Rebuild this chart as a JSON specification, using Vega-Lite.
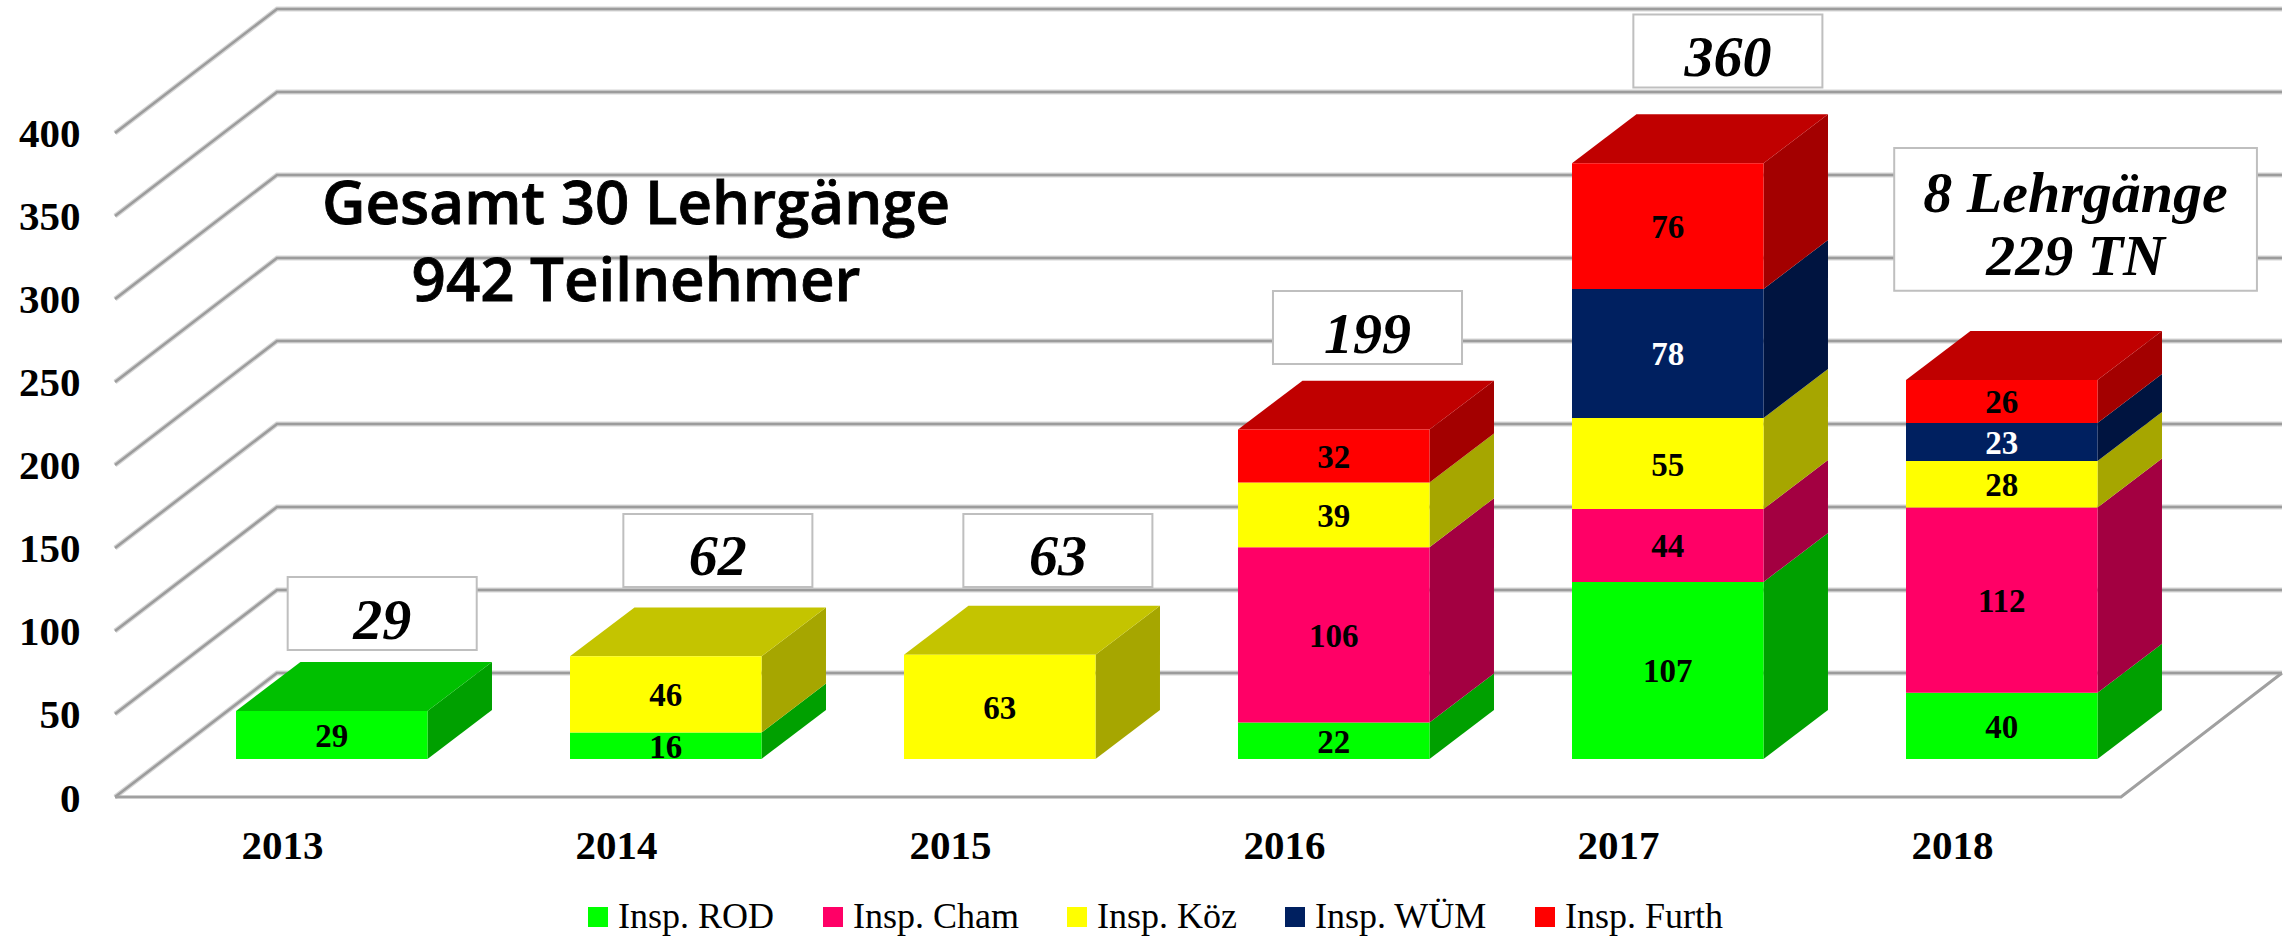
{
"$schema":"https://vega.github.io/schema/vega-lite/v6.json",
"width":2175,"height":797,"autosize":{"type":"none"},
"padding":{"left":115,"top":0,"right":0,"bottom":139},
"background":"white",
"config":{"view":{"stroke":null}},
"datasets":{
"counts":[
{"year":2013,"inspection":"Insp. ROD","value":29},
{"year":2014,"inspection":"Insp. ROD","value":16},
{"year":2014,"inspection":"Insp. Köz","value":46},
{"year":2015,"inspection":"Insp. Köz","value":63},
{"year":2016,"inspection":"Insp. ROD","value":22},
{"year":2016,"inspection":"Insp. Cham","value":106},
{"year":2016,"inspection":"Insp. Köz","value":39},
{"year":2016,"inspection":"Insp. Furth","value":32},
{"year":2017,"inspection":"Insp. ROD","value":107},
{"year":2017,"inspection":"Insp. Cham","value":44},
{"year":2017,"inspection":"Insp. Köz","value":55},
{"year":2017,"inspection":"Insp. WÜM","value":78},
{"year":2017,"inspection":"Insp. Furth","value":76},
{"year":2018,"inspection":"Insp. ROD","value":40},
{"year":2018,"inspection":"Insp. Cham","value":112},
{"year":2018,"inspection":"Insp. Köz","value":28},
{"year":2018,"inspection":"Insp. WÜM","value":23},
{"year":2018,"inspection":"Insp. Furth","value":26}],
"ticks":[{"tick":0},{"tick":50},{"tick":100},{"tick":150},{"tick":200},{"tick":250},{"tick":300},{"tick":350},{"tick":400}],
"notes":[
{"year":2013,"label":"29"},
{"year":2014,"label":"62"},
{"year":2015,"label":"63"},
{"year":2016,"label":"199"},
{"year":2017,"label":"360"},
{"year":2018,"label":"8 Lehrgänge\n229 TN"}]
},
"resolve":{"scale":{"color":"independent"}},
"encoding":{
"x":{"field":"px","type":"quantitative","title":null,"scale":{"domain":[2012.5,2019.012],"nice":false,"zero":false},
"axis":{"values":[2013,2014,2015,2016,2017,2018],"format":"d","grid":false,"domain":false,"ticks":false,"labelPadding":29,"labelFont":"Liberation Serif","labelFontWeight":"bold","labelFontSize":41,"labelColor":"black"}},
"y":{"field":"py","type":"quantitative","stack":null,"title":null,"scale":{"domain":[0,480.1],"nice":false,"zero":false},
"axis":{"values":[0,50,100,150,200,250,300,350,400],"grid":false,"domain":false,"ticks":false,"labelPadding":35,"labelOffset":2,"labelFont":"Liberation Serif","labelFontWeight":"bold","labelFontSize":41,"labelColor":"black"}}
},
"layer":[
{"data":{"name":"ticks"},
"transform":[{"calculate":"[0,1,2]","as":"c"},{"flatten":["c"]},
{"calculate":"[2012.5,2012.985,2018.988][datum.c]","as":"px"},
{"calculate":"datum.tick+(datum.c>0?74.7:0)","as":"py"}],
"mark":{"type":"line","stroke":"#d6d6d6","strokeWidth":5},
"encoding":{"detail":{"field":"tick"},"order":{"field":"c"}}},
{"data":{"name":"ticks"},
"transform":[{"calculate":"[0,1,2]","as":"c"},{"flatten":["c"]},
{"calculate":"[2012.5,2012.985,2018.988][datum.c]","as":"px"},
{"calculate":"datum.tick+(datum.c>0?74.7:0)","as":"py"}],
"mark":{"type":"line","stroke":"#9c9c9c","strokeWidth":2.5},
"encoding":{"detail":{"field":"tick"},"order":{"field":"c"}}},
{"data":{"name":"ticks"},
"transform":[{"filter":"datum.tick===0"},{"calculate":"[0,1,2]","as":"c"},{"flatten":["c"]},
{"calculate":"[2012.5,2018.506,2018.988][datum.c]","as":"px"},
{"calculate":"datum.c===2?74.7:0","as":"py"}],
"mark":{"type":"line","stroke":"#a0a0a0","strokeWidth":3},
"encoding":{"order":{"field":"c"}}},
{"data":{"name":"counts"},
"transform":[
{"calculate":"indexof(['Insp. ROD','Insp. Cham','Insp. Köz','Insp. WÜM','Insp. Furth'],datum.inspection)","as":"rank"},
{"stack":"value","groupby":["year"],"sort":[{"field":"rank"}],"as":["s0","s1"]},
{"calculate":"datum.year+'-'+datum.inspection","as":"key"},
{"calculate":"[0,1]","as":"c"},{"flatten":["c"]},
{"calculate":"datum.year+0.4357+datum.c*0.193","as":"px"},
{"calculate":"22.9+datum.s0*0.997+datum.c*29.5","as":"py"},
{"calculate":"22.9+datum.s1*0.997+datum.c*29.5","as":"py2"}],
"mark":{"type":"area","orient":"vertical"},
"encoding":{"y2":{"field":"py2"},"detail":{"field":"key"},
"color":{"field":"inspection","type":"nominal","legend":null,"scale":{"domain":["Insp. ROD","Insp. Cham","Insp. Köz","Insp. WÜM","Insp. Furth"],"range":["#00a000","#a30041","#a6a600","#001440","#a30000"]}}}},
{"data":{"name":"counts"},
"transform":[
{"calculate":"indexof(['Insp. ROD','Insp. Cham','Insp. Köz','Insp. WÜM','Insp. Furth'],datum.inspection)","as":"rank"},
{"stack":"value","groupby":["year"],"sort":[{"field":"rank"}],"as":["s0","s1"]},
{"joinaggregate":[{"op":"max","field":"s1","as":"total"}],"groupby":["year"]},
{"filter":"datum.s1===datum.total"},
{"calculate":"[0,1]","as":"c"},{"flatten":["c"]},
{"calculate":"datum.year-0.1377+datum.c*0.193","as":"px"},
{"calculate":"datum.px+0.5734","as":"px2"},
{"calculate":"22.9+datum.total*0.997+datum.c*29.5","as":"py"}],
"mark":{"type":"area","orient":"horizontal"},
"encoding":{"x2":{"field":"px2"},"detail":{"field":"year"},
"color":{"field":"inspection","type":"nominal","legend":null,"scale":{"domain":["Insp. ROD","Insp. Cham","Insp. Köz","Insp. WÜM","Insp. Furth"],"range":["#00c000","#c0004c","#c4c400","#001848","#c00000"]}}}},
{"data":{"name":"counts"},
"transform":[
{"calculate":"indexof(['Insp. ROD','Insp. Cham','Insp. Köz','Insp. WÜM','Insp. Furth'],datum.inspection)","as":"rank"},
{"stack":"value","groupby":["year"],"sort":[{"field":"rank"}],"as":["s0","s1"]},
{"calculate":"datum.year-0.1377","as":"px"},
{"calculate":"datum.px+0.5734","as":"px2"},
{"calculate":"22.9+datum.s0*0.997","as":"py"},
{"calculate":"22.9+datum.s1*0.997","as":"py2"}],
"mark":{"type":"rect"},
"encoding":{"x2":{"field":"px2"},"y2":{"field":"py2"},
"color":{"field":"inspection","type":"nominal","title":null,
"scale":{"domain":["Insp. ROD","Insp. Cham","Insp. Köz","Insp. WÜM","Insp. Furth"],"range":["#00ff00","#ff0066","#ffff00","#002060","#ff0000"]},
"legend":{"orient":"none","legendX":465,"legendY":899,"direction":"horizontal","symbolType":"square","symbolSize":400,"symbolStrokeWidth":0,"labelFont":"Liberation Serif","labelFontSize":36,"labelColor":"black","columnPadding":40,"labelOffset":2,"labelLimit":400,"padding":0,"rowPadding":0}}}},
{"data":{"name":"counts"},
"transform":[
{"calculate":"indexof(['Insp. ROD','Insp. Cham','Insp. Köz','Insp. WÜM','Insp. Furth'],datum.inspection)","as":"rank"},
{"stack":"value","groupby":["year"],"sort":[{"field":"rank"}],"as":["s0","s1"]},
{"calculate":"datum.year+0.149","as":"px"},
{"calculate":"22.9+(datum.s0+datum.s1)*0.997/2","as":"py"}],
"mark":{"type":"text","font":"Liberation Serif","fontWeight":"bold","fontSize":33,"baseline":"middle","align":"center","dy":2},
"encoding":{"text":{"field":"value","type":"quantitative"},
"color":{"condition":{"test":"datum.inspection==='Insp. WÜM'","value":"white"},"value":"black"}}},
{"data":{"name":"notes"},
"transform":[
{"calculate":"datum.year+{'2013':0.30,'2014':0.305,'2015':0.323,'2016':0.25,'2017':0.329,'2018':0.37}[''+datum.year]","as":"cx"},
{"calculate":"{'2013':110.5,'2014':148.5,'2015':148.5,'2016':282.8,'2017':449.4,'2018':347.9}[''+datum.year]","as":"cy"},
{"calculate":"datum.year===2018?0.543:0.283","as":"hw"},
{"calculate":"datum.year===2018?43:22","as":"hh"},
{"calculate":"datum.cx-datum.hw","as":"px"},
{"calculate":"datum.cx+datum.hw","as":"px2"},
{"calculate":"datum.cy-datum.hh","as":"py"},
{"calculate":"datum.cy+datum.hh","as":"py2"}],
"mark":{"type":"rect","fill":"white","stroke":"#bfbfbf","strokeWidth":2},
"encoding":{"x2":{"field":"px2"},"y2":{"field":"py2"}}},
{"data":{"name":"notes"},
"transform":[
{"calculate":"datum.year+{'2013':0.30,'2014':0.305,'2015':0.323,'2016':0.25,'2017':0.329,'2018':0.37}[''+datum.year]","as":"px"},
{"calculate":"{'2013':110.5,'2014':148.5,'2015':148.5,'2016':282.8,'2017':449.4,'2018':367.5}[''+datum.year]","as":"py"}],
"mark":{"type":"text","font":"Liberation Serif","fontWeight":"bold","fontStyle":"italic","fontSize":58,"baseline":"middle","align":"center","lineBreak":"\n","lineHeight":63,"dy":8,"color":"black"},
"encoding":{"text":{"field":"label","type":"nominal"}}},
{"data":{"values":[{"line":"Gesamt 30 Lehrgänge\n942 Teilnehmer"}]},
"transform":[{"calculate":"2014.06","as":"px"},{"calculate":"345.2","as":"py"}],
"mark":{"type":"text","font":"Open Sans","fontWeight":600,"fontSize":60,"baseline":"alphabetic","align":"center","lineBreak":"\n","lineHeight":77,"color":"black","stroke":"black","strokeWidth":0.8},
"encoding":{"text":{"field":"line","type":"nominal"}}}
]
}
